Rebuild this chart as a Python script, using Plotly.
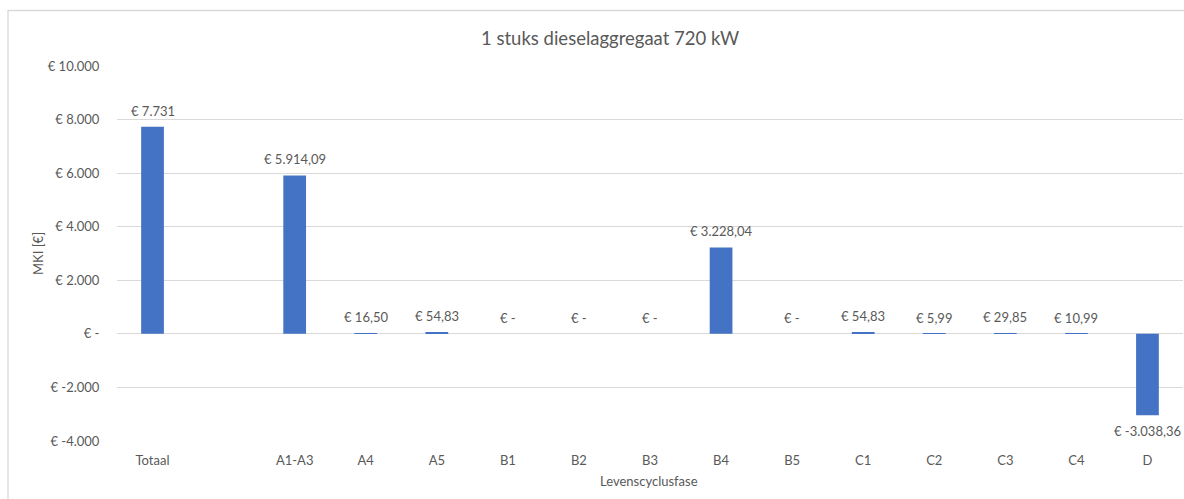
import plotly.graph_objects as go

# ---- data ----
categories = ["Totaal", " ", "A1-A3", "A4", "A5", "B1", "B2", "B3", "B4", "B5",
              "C1", "C2", "C3", "C4", "D"]
values = [7731, None, 5914.09, 16.50, 54.83, 0, 0, 0, 3228.04, 0,
          54.83, 5.99, 29.85, 10.99, -3038.36]
labels = ["€ 7.731", "", "€ 5.914,09", "€ 16,50", "€ 54,83", "€ -", "€ -", "€ -",
          "€ 3.228,04", "€ -", "€ 54,83", "€ 5,99", "€ 29,85", "€ 10,99", "€ -3.038,36"]
y_tickvals = [10000, 8000, 6000, 4000, 2000, 0, -2000, -4000]
y_ticktext = ["€ 10.000", "€ 8.000", "€ 6.000", "€ 4.000", "€ 2.000", "€ -",
              "€ -2.000", "€ -4.000"]

title_text = "1 stuks dieselaggregaat 720 kW"
x_title = "Levenscyclusfase"
y_title = "MKI [€]"

FONT = "Lato"
GREY = "#595959"
BAR = "#4472C4"
GRID = "#D9D9D9"

W, H = 1184, 499
# plot area in screen pixels: x 116.5..1182.6, y 66..441
L = 116.5
R = W - 1182.6
T = 66
B = H - 441
PW, PH = W - L - R, H - T - B


def px(xs):
    return (xs - L) / PW


def py(ys):
    return 1 - (ys - T) / PH


fig = go.Figure()
fig.add_trace(go.Bar(
    x=categories, y=values, marker=dict(color=BAR, line=dict(width=0)),
    width=0.32, hoverinfo="skip", showlegend=False,
))

annotations = []
for c, v, t in zip(categories, values, labels):
    if v is None:
        continue
    neg = v < 0
    annotations.append(dict(
        x=c, y=v, xref="x", yref="y", text=t, showarrow=False,
        xanchor="center", yanchor="top" if neg else "bottom",
        yshift=-6 if neg else 6,
        font=dict(family=FONT, size=13, color=GREY)))

annotations += [
    dict(text=title_text, x=px(610), y=py(38), xref="paper", yref="paper",
         xanchor="center", yanchor="middle", showarrow=False,
         font=dict(family=FONT, size=18.5, color=GREY)),
    dict(text=x_title, x=px(649), y=py(481), xref="paper", yref="paper",
         xanchor="center", yanchor="middle", showarrow=False,
         font=dict(family=FONT, size=13, color=GREY)),
    dict(text=y_title, x=px(37.5), y=py(254), xref="paper", yref="paper",
         xanchor="center", yanchor="middle", showarrow=False, textangle=-90,
         font=dict(family=FONT, size=13, color=GREY)),
]

fig.update_layout(
    width=W, height=H,
    margin=dict(l=L, r=R, t=T, b=B, pad=0),
    paper_bgcolor="white", plot_bgcolor="white",
    font=dict(family=FONT, color=GREY, size=13),
    xaxis=dict(type="category", categoryorder="array", categoryarray=categories,
               showgrid=False, zeroline=False, showline=False,
               ticks="outside", ticklen=7, tickcolor="rgba(0,0,0,0)",
               tickfont=dict(family=FONT, size=13, color=GREY),
               range=[-0.5, len(categories) - 0.5], fixedrange=True),
    yaxis=dict(range=[-4000, 10000], tickvals=y_tickvals, ticktext=y_ticktext,
               showgrid=True, gridcolor=GRID, gridwidth=1.3,
               zeroline=False, showline=False,
               ticks="outside", ticklen=14, tickcolor="rgba(0,0,0,0)",
               tickfont=dict(family=FONT, size=13, color=GREY), fixedrange=True),
    annotations=annotations,
    shapes=[
        dict(type="rect", xref="paper", yref="paper",
             x0=px(7.5), x1=1 + (R + 20) / PW,
             y0=-(B + 20) / PH, y1=py(10.5),
             line=dict(color=GRID, width=1.3), fillcolor="rgba(0,0,0,0)",
             layer="below"),
    ],
)

fig.write_html(
    "out.html",
    config={"displayModeBar": False},
    post_script="document.body.style.margin='0px';"
                "document.body.style.overflow='hidden';"
                "document.documentElement.style.overflow='hidden';",
)
